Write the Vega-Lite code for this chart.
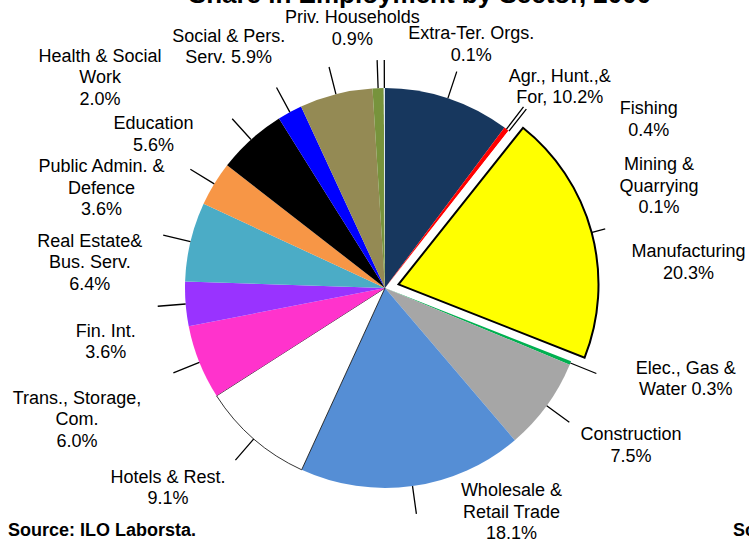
{
  "$schema": "https://vega.github.io/schema/vega-lite/v6.json",
  "width": 728,
  "height": 502,
  "autosize": "none",
  "padding": {"left": 21, "top": 37, "right": 0, "bottom": 0},
  "background": "white",
  "config": {"view": {"stroke": null}, "font": "Liberation Sans"},
  "title": {
    "text": "Share in Employment by Sector, 2000",
    "font": "Liberation Sans",
    "fontSize": 26,
    "fontWeight": "bold",
    "color": "#000000",
    "anchor": "middle",
    "frame": "group",
    "offset": 1,
    "dx": 35
  },
  "layer": [
    {
      "data": {
        "values": [
          {"sector": "Agr., Hunt., & For.", "share": 10.2, "label": "Agr., Hunt.,&\nFor, 10.2%"},
          {"sector": "Fishing", "share": 0.4, "label": "Fishing\n0.4%"},
          {"sector": "Mining & Quarrying", "share": 0.1, "label": "Mining &\nQuarrying\n0.1%"},
          {"sector": "Manufacturing", "share": 20.3, "label": "Manufacturing\n20.3%"},
          {"sector": "Elec., Gas & Water", "share": 0.3, "label": "Elec., Gas &\nWater  0.3%"},
          {"sector": "Construction", "share": 7.5, "label": "Construction\n7.5%"},
          {"sector": "Wholesale & Retail Trade", "share": 18.1, "label": "Wholesale &\nRetail Trade\n18.1%"},
          {"sector": "Hotels & Rest.", "share": 9.1, "label": "Hotels & Rest.\n9.1%"},
          {"sector": "Trans., Storage, Com.", "share": 6.0, "label": "Trans., Storage,\nCom.\n6.0%"},
          {"sector": "Fin. Int.", "share": 3.6, "label": "Fin. Int.\n3.6%"},
          {"sector": "Real Estate & Bus. Serv.", "share": 6.4, "label": "Real Estate&\nBus. Serv.\n6.4%"},
          {"sector": "Public Admin. & Defence", "share": 3.6, "label": "Public Admin. &\nDefence\n3.6%"},
          {"sector": "Education", "share": 5.6, "label": "Education\n5.6%"},
          {"sector": "Health & Social Work", "share": 2.0, "label": "Health & Social\nWork\n2.0%"},
          {"sector": "Social & Pers. Serv.", "share": 5.9, "label": "Social & Pers.\nServ. 5.9%"},
          {"sector": "Priv. Households", "share": 0.9, "label": "Priv. Households\n0.9%"},
          {"sector": "Extra-Ter. Orgs.", "share": 0.1, "label": "Extra-Ter. Orgs.\n0.1%"}
        ]
      },
      "transform": [{"window": [{"op": "row_number", "as": "i"}]}],
      "encoding": {
        "theta": {"field": "share", "type": "quantitative", "stack": true},
        "order": {"field": "i", "type": "quantitative"}
      },
      "layer": [
        {
          "mark": {"type": "arc", "radius": 200, "strokeWidth": 0.8},
          "encoding": {
            "color": {
              "field": "sector",
              "type": "nominal",
              "legend": null,
              "sort": null,
              "scale": {
                "domain": ["Agr., Hunt., & For.", "Fishing", "Mining & Quarrying", "Manufacturing", "Elec., Gas & Water", "Construction", "Wholesale & Retail Trade", "Hotels & Rest.", "Trans., Storage, Com.", "Fin. Int.", "Real Estate & Bus. Serv.", "Public Admin. & Defence", "Education", "Health & Social Work", "Social & Pers. Serv.", "Priv. Households", "Extra-Ter. Orgs."],
                "range": ["#17375E", "#FF0000", "#FFFFFF", "#FFFF00", "#00B050", "#A6A6A6", "#558ED5", "#FFFFFF", "#FF33CC", "#9933FF", "#4BACC6", "#F79646", "#000000", "#0000FF", "#948A54", "#77933C", "#DCE6F2"]
              }
            },
            "fillOpacity": {"condition": {"test": "datum.sector === 'Manufacturing'", "value": 0}, "value": 1},
            "stroke": {"condition": {"test": "datum.sector === 'Hotels & Rest.'", "value": "#000000"}, "value": "transparent"}
          }
        },
        {
          "mark": {"type": "arc", "radius": 228, "radius2": 200, "padAngle": 3, "fillOpacity": 0, "stroke": "#000000", "strokeWidth": 1.3},
          "encoding": {"detail": {"field": "sector"}}
        },
        {
          "mark": {"type": "arc", "radius": 200, "stroke": "#000000", "strokeWidth": 2, "x": {"expr": "width/2 + 13.5"}, "y": {"expr": "height/2 - 3.6"}},
          "encoding": {
            "color": {"field": "sector", "type": "nominal", "legend": null, "sort": null},
            "opacity": {"condition": {"test": "datum.sector === 'Manufacturing'", "value": 1}, "value": 0}
          }
        },
        {
          "mark": {
            "type": "text",
            "radius": 250,
            "fontSize": 18,
            "font": "Liberation Sans",
            "lineBreak": "\n",
            "lineHeight": 21.5,
            "align": "center",
            "baseline": "middle",
            "fill": "#000000",
            "dx": {"expr": "[96,112,119,62,69,44,92,-53,-76,-30,-52,-70,-64,-166,-95,-24,87][datum.i - 1]"},
            "dy": {"expr": "[26,20,73.5,29,-13,0,-44.5,1,17.5,24,11.5,9.5,22,-11.5,-9,-20,-4][datum.i - 1]"}
          },
          "encoding": {
            "detail": {"field": "sector"},
            "text": {"field": "label"}
          }
        }
      ]
    },
    {
      "data": {"values": [{"note": "Source: ILO Laborsta."}]},
      "mark": {"type": "text", "x": -13, "y": 499, "align": "left", "baseline": "alphabetic", "fontSize": 18, "fontWeight": "bold", "font": "Liberation Sans", "fill": "#000000"},
      "encoding": {"text": {"field": "note"}}
    },
    {
      "data": {"values": [{"note": "Source:"}]},
      "mark": {"type": "text", "x": 712, "y": 499, "align": "left", "baseline": "alphabetic", "fontSize": 18, "fontWeight": "bold", "font": "Liberation Sans", "fill": "#000000"},
      "encoding": {"text": {"field": "note"}}
    }
  ]
}
